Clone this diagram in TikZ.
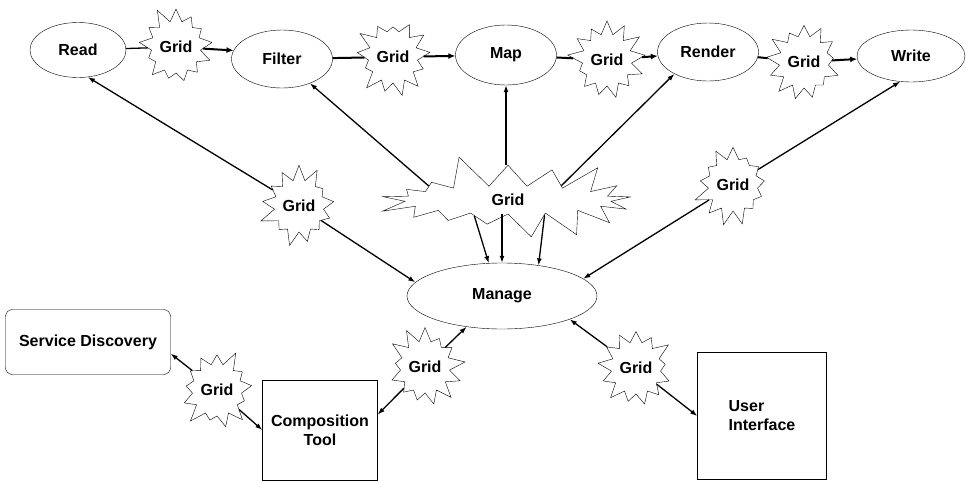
\documentclass[tikz,border=0pt]{standalone}
\usepackage{fontspec}
\setmainfont{Liberation Sans}
\usetikzlibrary{shapes.geometric}
\usetikzlibrary{shapes.symbols}
\usetikzlibrary{arrows.meta}

\tikzset{
  every node/.style={font=\bfseries\fontsize{16}{19}\selectfont},
  proc/.style={draw, ellipse, inner sep=0pt, minimum width=101pt, minimum height=57pt},
  gridstar/.style={draw, fill=white, starburst, starburst points=13, starburst point height=16pt,
    inner sep=1pt, minimum width=72pt, minimum height=84pt},
  bigstar/.style={draw, fill=white, starburst, starburst points=17, starburst point height=34pt,
    inner sep=1pt, minimum width=275pt, minimum height=96pt},
  wire/.style={line width=1.3pt},
  toarrow/.style={wire, -{Latex[length=7pt,width=5pt]}},
  flowline/.style={line width=2pt},
  flowarrow/.style={flowline, -{Latex[length=7pt,width=6pt]}},
}

\begin{document}
\begin{tikzpicture}[x=1pt,y=-1pt]
    \useasboundingbox (0,0) rectangle (966,482);

    \node [proc, minimum width=96pt, minimum height=55pt] (read)   at (78,50)  {Read};
    \node [proc, minimum height=58pt]                     (filter) at (282,59) {Filter};
    \node [proc, minimum height=60pt]                     (map)    at (506,55) {Map};
    \node [proc, minimum height=58pt]                     (render) at (708,52) {Render};
    \node [proc, minimum width=108pt, minimum height=52pt] (write) at (911,56) {Write};
    \node [proc, minimum width=190pt, minimum height=66pt] (manage) at (502,296) {Manage};

    \node [draw, rounded corners=7pt, minimum width=165pt, minimum height=65pt] (sd) at (88,342) {Service Discovery};
    \node [draw, align=center, minimum width=115pt, minimum height=100pt] (ct) at (320,430) {Composition\\Tool};
    \node [draw, align=left, minimum width=129pt, minimum height=127pt] (ui) at (762,416) {User\\Interface};

    \node [gridstar, random starburst=11] (g1) at (176,47)  {Grid};
    \node [gridstar, random starburst=23] (g2) at (393,57)  {Grid};
    \node [gridstar, random starburst=37] (g3) at (607,60)  {Grid};
    \node [gridstar, random starburst=41] (g4) at (804,62)  {Grid};
    \node [gridstar, random starburst=53] (gl) at (299,206) {Grid};
    \node [gridstar, random starburst=67] (gr) at (733,185) {Grid};
    \node [gridstar, random starburst=71] (gs) at (217,390) {Grid};
    \node [gridstar, random starburst=83] (gc) at (425,367) {Grid};
    \node [gridstar, random starburst=97] (gu) at (636,368) {Grid};
    \node [bigstar, random starburst=5]   (gb) at (508,200) {Grid};

    \draw [wire]      (read) -- (g1);
    \draw [flowarrow] (g1) -- (filter.170);
    \draw [flowline]  (filter) -- (g2);
    \draw [flowarrow] (g2) -- (map);
    \draw [flowline]  (map) -- (g3);
    \draw [flowarrow] (g3) -- (render);
    \draw [flowline]  (render) -- (g4);
    \draw [flowarrow] (g4) -- (write);

    \draw [toarrow] (gl) -- (read.290);
    \draw [toarrow] (gl) -- (manage.171);
    \draw [toarrow] (gb.170) -- (filter.319);
    \draw [toarrow] (gb.north -| map.south) -- (map.south);
    \draw [toarrow] (gb.15) -- (render.213);
    \draw [toarrow] (gb.205) -- (manage.112);
    \draw [toarrow] (gb.south -| manage.north) -- (manage.north);
    \draw [toarrow] (gb.338) -- (manage.40);
    \draw [toarrow] (gr) -- (write.247);
    \draw [toarrow] (gr) -- (manage.12);

    \draw [toarrow] (gc) -- (manage.221);
    \draw [toarrow] (gc) -- (ct.15);
    \draw [toarrow] (gu) -- (manage.341);
    \draw [toarrow] (gu) -- (ui.west);
    \draw [toarrow] (gs) -- (sd.-8);
    \draw [toarrow] (gs) -- (ct.west);

\end{tikzpicture}
\end{document}
